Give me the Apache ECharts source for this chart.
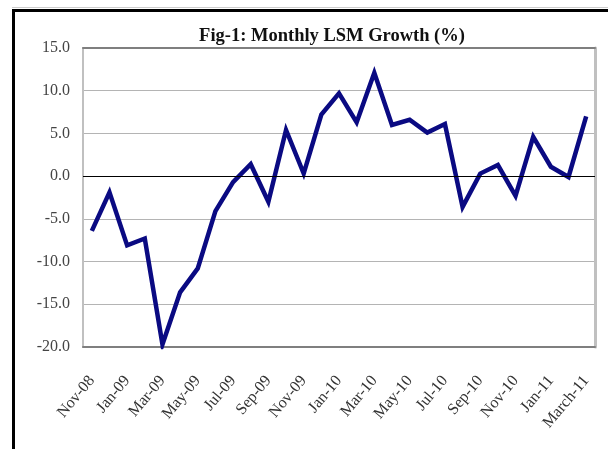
<!DOCTYPE html>
<html>
<head>
<meta charset="utf-8">
<script src="https://cdn.jsdelivr.net/npm/echarts@6/dist/echarts.min.js"></script>
<style>html,body{margin:0;padding:0;background:#fff}#c{width:608px;height:449px}</style>
</head>
<body>
<div id="c"></div>
<script>
var categories = ['Nov-08','Dec-08','Jan-09','Feb-09','Mar-09','Apr-09','May-09','Jun-09','Jul-09','Aug-09','Sep-09','Oct-09','Nov-09','Dec-09','Jan-10','Feb-10','Mar-10','Apr-10','May-10','Jun-10','Jul-10','Aug-10','Sep-10','Oct-10','Nov-10','Dec-10','Jan-11','Feb-11','March-11'];
var growth = [-6.4,-1.9,-8.1,-7.3,-19.7,-13.6,-10.8,-4.1,-0.7,1.4,-3.0,5.4,0.3,7.2,9.7,6.3,12.1,6.0,6.6,5.1,6.1,-3.6,0.3,1.3,-2.3,4.6,1.1,-0.1,7.0];
var yTicks = {min: -20, max: 15, interval: 5};
var titleText = 'Fig-1: Monthly LSM Growth (%)';

var serif = '"Liberation Serif", "DejaVu Serif", serif';
var chart = echarts.init(document.getElementById('c'), null, {renderer: 'canvas'});
chart.setOption({
  animation: false,
  backgroundColor: '#fff',
  title: {
    text: titleText, left: 327, top: 22, textAlign: 'center',
    textStyle: {fontFamily: serif, fontWeight: 'bold', fontSize: 18.5, color: '#111'}
  },
  grid: {left: 83, right: 13, top: 48, bottom: 102},
  graphic: [
    {type: 'line', shape: {x1: 13.5, y1: 9, x2: 13.5, y2: 449}, style: {stroke: '#000', lineWidth: 3}, silent: true},
    {type: 'line', shape: {x1: 12, y1: 10.5, x2: 608, y2: 10.5}, style: {stroke: '#000', lineWidth: 3}, silent: true},
    {type: 'line', shape: {x1: 12, y1: 7.5, x2: 608, y2: 7.5}, style: {stroke: '#ccc', lineWidth: 1}, silent: true}
  ],
  xAxis: [{
    type: 'category', data: categories, boundaryGap: true,
    axisLine: {onZero: false, lineStyle: {color: '#7f7f7f', width: 2}},
    axisTick: {show: false},
    axisLabel: {interval: 1, rotate: 50, fontFamily: serif, fontSize: 16, color: '#333', margin: 31}
  }, {
    type: 'category', data: categories, position: 'top', boundaryGap: true,
    axisLine: {onZero: false, lineStyle: {color: '#7f7f7f', width: 2}},
    axisTick: {show: false}, axisLabel: {show: false}
  }],
  yAxis: [{
    type: 'value', min: yTicks.min, max: yTicks.max, interval: yTicks.interval,
    axisLine: {show: true, lineStyle: {color: '#c0c0c0', width: 2}},
    axisTick: {show: false},
    splitLine: {lineStyle: {color: '#b4b4b4', width: 1}},
    axisLabel: {fontFamily: serif, fontSize: 16, color: '#444', margin: 13,
      formatter: function (v) { return v.toFixed(1); }}
  }, {
    type: 'value', min: yTicks.min, max: yTicks.max, interval: yTicks.interval, position: 'right',
    axisLine: {show: true, lineStyle: {color: '#c0c0c0', width: 3}},
    axisTick: {show: false}, axisLabel: {show: false}, splitLine: {show: false}
  }],
  series: [{
    type: 'line', data: growth, symbol: 'none', smooth: false,
    lineStyle: {color: '#0a0a82', width: 4.5, join: 'miter'},
    markLine: {
      silent: true, symbol: 'none', label: {show: false},
      lineStyle: {color: '#000', width: 1.2, type: 'solid'},
      data: [{yAxis: 0}]
    },
    z: 3
  }]
});
</script>
</body>
</html>
